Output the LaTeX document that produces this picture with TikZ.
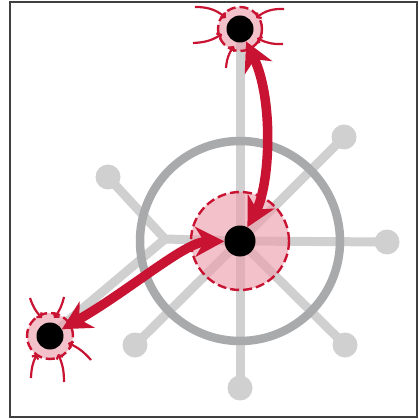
\documentclass[tikz,border=0pt]{standalone}
\usetikzlibrary{arrows.meta,calc}
\definecolor{crim}{RGB}{200,20,50}
\definecolor{pinkf}{RGB}{236,160,172}
\definecolor{spk}{RGB}{208,208,208}
\definecolor{ringc}{RGB}{168,170,172}
\begin{document}
\begin{tikzpicture}[x=1pt,y=-1pt,
  spoke/.style={draw=spk,line width=9pt},
  ball/.style={circle,fill=spk,inner sep=0pt,minimum size=25pt},
  halo/.style={circle,draw=crim,line width=2.4pt,dash pattern=on 9pt off 4pt,fill=pinkf,fill opacity=0.65,inner sep=0pt},
  dot/.style={circle,fill=black,inner sep=0pt},
  big/.style={draw=crim,line width=9.5pt,{Stealth[length=29pt,width=30pt,inset=9pt]}-{Stealth[length=29pt,width=30pt,inset=9pt]}},
  small/.style={draw=crim,line width=2.2pt,-{Straight Barb[length=3pt,width=7pt]}}]
\useasboundingbox (0,0) rectangle (419,419);
\draw[line width=1.4pt,black!75] (10,2) rectangle (417,417);
% positions
\coordinate (c) at (240,241);
\coordinate (t) at (240,29);
\coordinate (l) at (50,336);
\coordinate (kink) at (165,239);
% spoke ends
\node[ball] (bR) at (387,242) {};
\node[ball] (bD) at (240,388) {};
\node[ball] (bUR) at (344,137) {};
\node[ball] (bDR) at (345,345) {};
\node[ball] (bDL) at (135,345) {};
\node[ball] (bUL) at (108,177) {};
% spokes
\draw[spoke] (c) -- (t);
\draw[spoke] (c) -- (bR.center);
\draw[spoke] (c) -- (bD.center);
\draw[spoke] (c) -- (bUR.center);
\draw[spoke] (c) -- (bDR.center);
\draw[spoke] (c) -- (bDL.center);
\draw[spoke,line join=round] (bUL.center) -- (kink) -- (c);
\draw[spoke,line join=round] (l) -- (kink);
% ring
\draw[ringc,line width=8.5pt] (c) circle (100);
% halos
\node[halo,minimum size=98pt] (H) at (c) {};
\node[halo,minimum size=44pt] (HT) at (t) {};
\node[halo,minimum size=46pt] (HL) at (l) {};
% dots
\node[dot,minimum size=31pt] (C) at (c) {};
\node[dot,minimum size=27pt] (T) at (t) {};
\node[dot,minimum size=27pt] (L) at (l) {};
% small arrows around top node
\coordinate (t1) at (195,7);  \coordinate (t1e) at (226,18);
\coordinate (t2) at (193,43); \coordinate (t2e) at (222,34);
\coordinate (t3) at (226,68); \coordinate (t3e) at (234,46);
\coordinate (t4) at (284,9);  \coordinate (t4e) at (256,18);
\coordinate (t5) at (283,44); \coordinate (t5e) at (257,38);
\draw[small] (t1) to[bend left=20] (t1e);
\draw[small] (t2) to[bend right=15] (t2e);
\draw[small] (t3) to[bend left=15] (t3e);
\draw[small] (t4) to[bend right=20] (t4e);
\draw[small] (t5) to[bend left=15] (t5e);
% small arrows around lower-left node
\coordinate (l1) at (30,298);  \coordinate (l1e) at (42,318);
\coordinate (l2) at (64,297);  \coordinate (l2e) at (54,318);
\coordinate (l3) at (31,378);  \coordinate (l3e) at (37,354);
\coordinate (l4) at (64,382);  \coordinate (l4e) at (58,354);
\coordinate (l5) at (91,360);  \coordinate (l5e) at (68,343);
\draw[small] (l1) to[bend right=12] (l1e);
\draw[small] (l2) to[bend left=12] (l2e);
\draw[small] (l3) to[bend left=12] (l3e);
\draw[small] (l4) to[bend right=12] (l4e);
\draw[small] (l5) to[bend right=12] (l5e);
% big arrows
\draw[big] (T) .. controls (274,100) and (270,185) .. (C);
\draw[big] (L) .. controls (130,290) and (185,242) .. (C);
\end{tikzpicture}
\end{document}
